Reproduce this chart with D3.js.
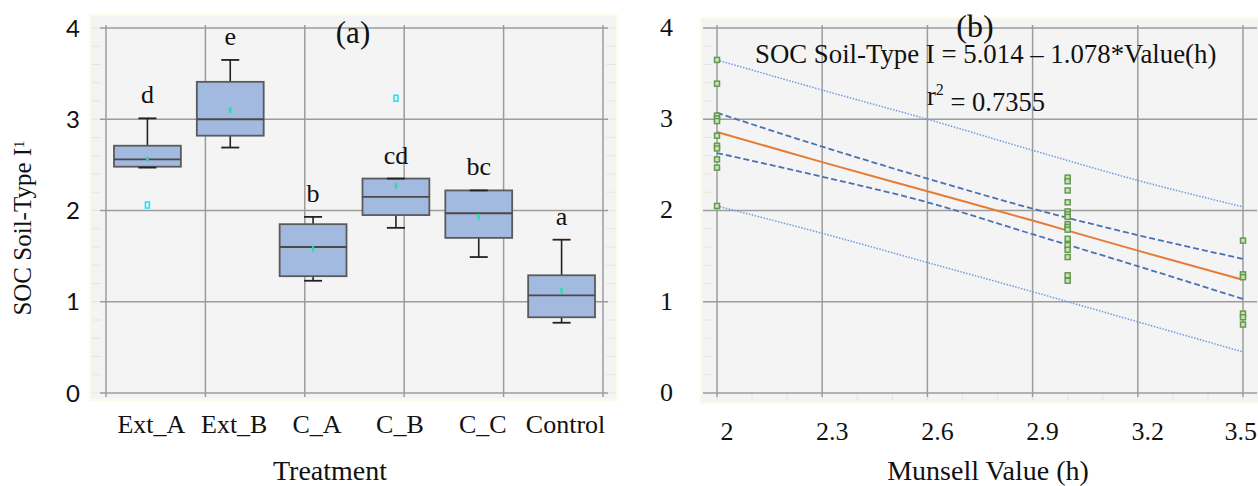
<!DOCTYPE html>
<html>
<head>
<meta charset="utf-8">
<script src="https://cdn.jsdelivr.net/npm/d3@7"></script>
<style>
  body { margin: 0; background: #fff; }
  svg { display: block; }
</style>
</head>
<body>
<script>
const WIDTH = 1258;
const HEIGHT = 486;

// panel (a) data: box plot per treatment
const categories = ["Ext_A", "Ext_B", "C_A", "C_B", "C_C", "Control"];
const whiskerLow = [2.47, 2.69, 1.23, 1.81, 1.49, 0.77];
const q1 = [2.48, 2.82, 1.28, 1.95, 1.70, 0.83];
const medians = [2.56, 3.00, 1.60, 2.15, 1.97, 1.07];
const q3 = [2.71, 3.41, 1.85, 2.35, 2.22, 1.29];
const whiskerHigh = [3.01, 3.65, 1.93, 2.35, 2.22, 1.68];
const means = [2.56, 3.10, 1.58, 2.27, 1.93, 1.12];
const groupLetters = ["d", "e", "b", "cd", "bc", "a"];
const outlierCats = ["Ext_A", "C_B"];
const outlierVals = [2.06, 3.23];
const yTicks = [0, 1, 2, 3, 4];

// panel (b) data: scatter + regression
const obsX2 = [3.65, 3.39, 3.04, 3.01, 2.98, 2.82, 2.71, 2.68, 2.56, 2.47, 2.05];
const obsX3 = [2.36, 2.32, 2.22, 2.09, 1.99, 1.96, 1.93, 1.85, 1.82, 1.79, 1.69, 1.62, 1.57, 1.49, 1.29, 1.23];
const obsX35 = [1.67, 1.30, 1.27, 0.87, 0.83, 0.75];
const bandX = [2, 2.3, 2.6, 2.9, 3.2, 3.5];
const fitLine = [2.86, 2.53, 2.21, 1.89, 1.56, 1.24];
const confUpper = [3.07, 2.70, 2.35, 2.02, 1.73, 1.47];
const confLower = [2.63, 2.37, 2.09, 1.74, 1.39, 1.03];
const predUpper = [3.65, 3.32, 3.00, 2.66, 2.33, 2.04];
const predLower = [2.05, 1.75, 1.43, 1.11, 0.78, 0.45];
const munsellTicks = [2, 2.3, 2.6, 2.9, 3.2, 3.5];

const SERIF = "'Liberation Serif', 'Times New Roman', serif";
const GRID = "#9c9c9c";

var svg = d3.select("body").append("svg").attr("width", WIDTH).attr("height", HEIGHT);

/************************************************************
                         PANEL (a)
*************************************************************/
var y = d3.scaleLinear().domain([0, 4]).range([393, 28]);
var xGrid = d3.scaleLinear().domain([0, 5]).range([106, 603]);
var xBand = d3.scaleBand().domain(categories).range([106, 603])
    .paddingInner(0.193).paddingOuter(0.0965);

var pa = svg.append("g");
pa.append("rect").attr("x", 90).attr("y", 15).attr("width", 527).attr("height", 385)
  .attr("fill", "#f4f4f4").attr("stroke", "#fbfbea").attr("stroke-width", 2);

// faint minor ticks
var minorY = d3.range(0, 4.01, 0.2);
pa.selectAll(".minorL").data(minorY).enter().append("line")
  .attr("x1", 92).attr("x2", 101).attr("y1", d => y(d)).attr("y2", d => y(d))
  .attr("stroke", "#e6e6d8").attr("stroke-width", 1);
pa.selectAll(".minorR").data(minorY).enter().append("line")
  .attr("x1", 606).attr("x2", 615).attr("y1", d => y(d)).attr("y2", d => y(d))
  .attr("stroke", "#e6e6d8").attr("stroke-width", 1);

pa.selectAll(".hgrid").data(yTicks).enter().append("line")
  .attr("x1", 100).attr("x2", 608).attr("y1", d => y(d)).attr("y2", d => y(d))
  .attr("stroke", GRID).attr("stroke-width", 1.5);
pa.selectAll(".vgrid").data(d3.range(0, 6)).enter().append("line")
  .attr("x1", d => xGrid(d)).attr("x2", d => xGrid(d)).attr("y1", 25).attr("y2", 397)
  .attr("stroke", GRID).attr("stroke-width", 1.5);

pa.selectAll(".ytick").data(yTicks).enter().append("text")
  .attr("x", 80).attr("y", d => y(d)).attr("dy", "0.36em")
  .attr("text-anchor", "end").attr("font-family", "Lato, 'Open Sans', sans-serif")
  .attr("font-size", 24).attr("fill", "#111").text(d => d);

var boxes = pa.selectAll(".box").data(categories).enter().append("g");
var bw = xBand.bandwidth();
var cx = d => xBand(d) + bw / 2;

// whiskers
boxes.append("line")
  .attr("x1", d => cx(d)).attr("x2", d => cx(d))
  .attr("y1", (d, i) => y(whiskerHigh[i])).attr("y2", (d, i) => y(q3[i]))
  .attr("stroke", "#222").attr("stroke-width", 1.6);
boxes.append("line")
  .attr("x1", d => cx(d)).attr("x2", d => cx(d))
  .attr("y1", (d, i) => y(q1[i])).attr("y2", (d, i) => y(whiskerLow[i]))
  .attr("stroke", "#222").attr("stroke-width", 1.6);
boxes.append("rect")
  .attr("x", d => xBand(d)).attr("width", bw)
  .attr("y", (d, i) => y(q3[i])).attr("height", (d, i) => y(q1[i]) - y(q3[i]))
  .attr("fill", "#a2b9e0").attr("stroke", "#5a5a5a").attr("stroke-width", 1.8);
boxes.append("line")
  .attr("x1", d => xBand(d)).attr("x2", d => xBand(d) + bw)
  .attr("y1", (d, i) => y(medians[i])).attr("y2", (d, i) => y(medians[i]))
  .attr("stroke", "#4a4a4a").attr("stroke-width", 1.8);
// caps
[whiskerHigh, whiskerLow].forEach(function(arr) {
  boxes.append("line")
    .attr("x1", d => cx(d) - 9).attr("x2", d => cx(d) + 9)
    .attr("y1", (d, i) => y(arr[i])).attr("y2", (d, i) => y(arr[i]))
    .attr("stroke", "#222").attr("stroke-width", 1.8);
});
// mean markers
boxes.append("line")
  .attr("x1", d => cx(d)).attr("x2", d => cx(d))
  .attr("y1", (d, i) => y(means[i]) - 3).attr("y2", (d, i) => y(means[i]) + 3)
  .attr("stroke", "#14e6a0").attr("stroke-width", 1.8);
boxes.append("line")
  .attr("x1", d => cx(d) - 1.5).attr("x2", d => cx(d) + 1.5)
  .attr("y1", (d, i) => y(means[i])).attr("y2", (d, i) => y(means[i]))
  .attr("stroke", "#14e6a0").attr("stroke-width", 1);
// letters
boxes.append("text")
  .attr("x", d => cx(d)).attr("y", (d, i) => y(whiskerHigh[i]) - 15)
  .attr("text-anchor", "middle").attr("font-family", SERIF).attr("font-size", 26)
  .attr("fill", "#111").text((d, i) => groupLetters[i]);

pa.selectAll(".outlier").data(outlierCats).enter().append("rect")
  .attr("x", d => cx(d) - 2).attr("y", (d, i) => y(outlierVals[i]) - 3)
  .attr("width", 4).attr("height", 6)
  .attr("fill", "#dffcff").attr("stroke", "#1ee3f0").attr("stroke-width", 1.5);

pa.selectAll(".xlab").data(categories).enter().append("text")
  .attr("x", d => cx(d) + 4).attr("y", 433)
  .attr("text-anchor", "middle").attr("font-family", SERIF).attr("font-size", 26)
  .attr("fill", "#111").text(d => d);

pa.append("text").attr("x", 330).attr("y", 480).attr("text-anchor", "middle")
  .attr("font-family", SERIF).attr("font-size", 28).attr("fill", "#111").text("Treatment");

var ytitle = pa.append("text").attr("transform", "translate(31,228) rotate(-90)")
  .attr("text-anchor", "middle").attr("font-family", SERIF).attr("font-size", 25).attr("fill", "#111");
ytitle.append("tspan").text("SOC Soil-Type I");
ytitle.append("tspan").attr("dy", "-0.5em").attr("font-size", 15).text("1");

pa.append("text").attr("x", 353).attr("y", 43).attr("text-anchor", "middle")
  .attr("font-family", SERIF).attr("font-size", 31).attr("fill", "#111").text("(a)");

/************************************************************
                         PANEL (b)
*************************************************************/
var xb = d3.scaleLinear().domain([2, 3.5]).range([717, 1243]);
var pb = svg.append("g");

pb.append("rect").attr("x", 701).attr("y", 18).attr("width", 560).attr("height", 385)
  .attr("fill", "#f4f4f4").attr("stroke", "#fbfbea").attr("stroke-width", 2);

pb.selectAll(".minorL").data(minorY).enter().append("line")
  .attr("x1", 703).attr("x2", 712).attr("y1", d => y(d)).attr("y2", d => y(d))
  .attr("stroke", "#e6e6d8").attr("stroke-width", 1);
pb.selectAll(".minorB").data(d3.range(2, 3.51, 0.1)).enter().append("line")
  .attr("x1", d => xb(d)).attr("x2", d => xb(d)).attr("y1", 394).attr("y2", 401)
  .attr("stroke", "#e6e6d8").attr("stroke-width", 1);

pb.selectAll(".hgrid").data(yTicks).enter().append("line")
  .attr("x1", 703).attr("x2", 1257).attr("y1", d => y(d)).attr("y2", d => y(d))
  .attr("stroke", GRID).attr("stroke-width", 1.5);
pb.selectAll(".vgrid").data(munsellTicks).enter().append("line")
  .attr("x1", d => xb(d)).attr("x2", d => xb(d)).attr("y1", 25).attr("y2", 397)
  .attr("stroke", GRID).attr("stroke-width", 1.5);

pb.selectAll(".ytick").data(yTicks).enter().append("text")
  .attr("x", 673).attr("y", d => y(d)).attr("dy", "0.3em")
  .attr("text-anchor", "end").attr("font-family", SERIF)
  .attr("font-size", 26).attr("fill", "#111").text(d => d);

pb.selectAll(".xtick").data(munsellTicks).enter().append("text")
  .attr("x", (d, i) => i === munsellTicks.length - 1 ? 1257 : xb(d) + 10)
  .attr("y", 440)
  .attr("text-anchor", (d, i) => i === munsellTicks.length - 1 ? "end" : "middle")
  .attr("font-family", SERIF).attr("font-size", 26).attr("fill", "#111").text(d => d);

pb.append("text").attr("x", 988).attr("y", 480).attr("text-anchor", "middle")
  .attr("font-family", SERIF).attr("font-size", 28).attr("fill", "#111").text("Munsell Value (h)");

var bandLine = d3.line().x((d, i) => xb(bandX[i])).y(d => y(d)).curve(d3.curveMonotoneX);

[predUpper, predLower].forEach(function(arr) {
  pb.append("path").attr("d", bandLine(arr)).attr("fill", "none")
    .attr("stroke", "#6e9ae2").attr("stroke-width", 1.5).attr("stroke-dasharray", "1.5,1.5");
});
[confUpper, confLower].forEach(function(arr) {
  pb.append("path").attr("d", bandLine(arr)).attr("fill", "none")
    .attr("stroke", "#4a72b2").attr("stroke-width", 1.8).attr("stroke-dasharray", "6,3");
});
pb.append("path").attr("d", bandLine(fitLine)).attr("fill", "none")
  .attr("stroke", "#e57c35").attr("stroke-width", 2);

var pts = [];
obsX2.forEach(v => pts.push({x: 2, v: v}));
obsX3.forEach(v => pts.push({x: 3, v: v}));
obsX35.forEach(v => pts.push({x: 3.5, v: v}));

pb.selectAll(".pt").data(pts).enter().append("rect")
  .attr("x", d => xb(d.x) - 2.5).attr("y", d => y(d.v) - 2.5)
  .attr("width", 5).attr("height", 5)
  .attr("fill", "#c9e0bd").attr("stroke", "#649a4e").attr("stroke-width", 1.5);

var eq = pb.append("text").attr("x", 755).attr("y", 63)
  .attr("font-family", SERIF).attr("font-size", 26.8).attr("fill", "#111");
eq.text("SOC Soil-Type I = 5.014 \u2013 1.078*Value(h)");

var r2 = pb.append("text").attr("x", 927).attr("y", 105)
  .attr("font-family", SERIF).attr("font-size", 26.5).attr("fill", "#111");
r2.append("tspan").text("r");
r2.append("tspan").attr("dy", "-0.6em").attr("font-size", 16).text("2");
r2.append("tspan").attr("dy", "0.6em").text(" = 0.7355");

pb.append("text").attr("x", 975).attr("y", 37).attr("text-anchor", "middle")
  .attr("font-family", SERIF).attr("font-size", 32).attr("fill", "#111").text("(b)");
</script>
</body>
</html>
